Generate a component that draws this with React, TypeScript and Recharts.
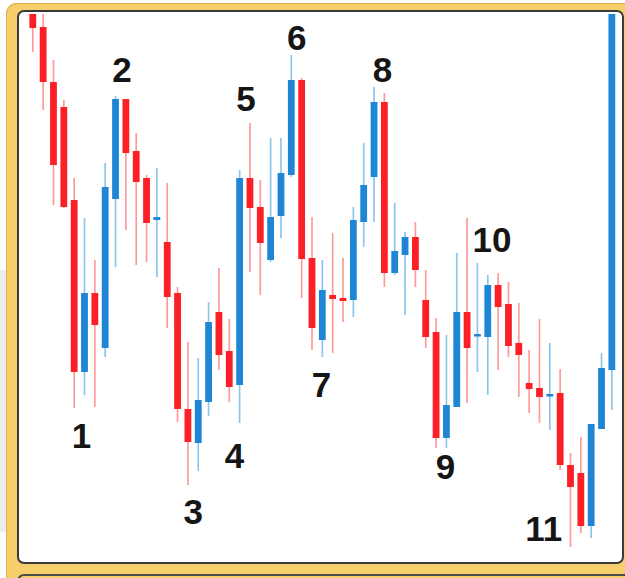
import { ComposedChart, Bar, XAxis, YAxis, ReferenceDot } from 'recharts';

// one entry per session, left to right
const days = [
  '1', '2', '3', '4', '5', '6', '7', '8', '9', '10',
  '11', '12', '13', '14', '15', '16', '17', '18', '19', '20',
  '21', '22', '23', '24', '25', '26', '27', '28', '29', '30',
  '31', '32', '33', '34', '35', '36', '37', '38', '39', '40',
  '41', '42', '43', '44', '45', '46', '47', '48', '49', '50',
  '51', '52', '53', '54', '55', '56', '57',
];

const opens = [
  155.0, 153.1, 147.6, 145.1, 135.8, 118.6, 126.5, 121.0, 135.9, 145.9,
  140.7, 138.0, 133.8, 131.6, 126.5, 114.9, 111.5, 115.6, 124.6, 120.7,
  117.3, 138.0, 135.1, 129.8, 134.2, 138.3, 147.8, 130.0, 121.8, 126.3,
  126.0, 125.8, 133.6, 138.1, 145.6, 128.5, 130.3, 132.1, 125.8, 122.6,
  112.0, 115.1, 124.6, 122.2, 122.1, 127.3, 125.4, 121.5, 117.5, 117.0,
  116.2, 116.5, 109.3, 108.5, 103.2, 112.9, 118.8,
];

const highs = [
  156.0, 155.5, 149.8, 145.8, 138.0, 134.0, 129.8, 139.5, 146.2, 145.9,
  142.5, 138.3, 139.0, 137.5, 127.1, 121.6, 120.0, 125.6, 129.0, 123.9,
  138.8, 143.5, 137.8, 142.0, 142.0, 150.3, 148.0, 134.1, 129.8, 132.5,
  130.0, 135.1, 141.5, 147.1, 146.5, 135.5, 132.6, 133.6, 128.8, 124.0,
  122.3, 130.5, 134.0, 129.5, 128.3, 128.5, 127.6, 125.5, 120.8, 123.9,
  121.5, 118.9, 110.5, 112.1, 113.4, 120.5, 156.5,
];

const lows = [
  150.6, 144.8, 135.3, 135.0, 115.0, 116.3, 115.1, 120.1, 129.1, 132.8,
  129.3, 129.6, 128.1, 123.0, 113.6, 107.3, 108.7, 114.2, 118.8, 115.6,
  113.5, 128.6, 126.3, 129.6, 132.0, 138.1, 126.0, 120.8, 120.1, 120.5,
  123.6, 124.1, 131.1, 133.6, 127.1, 128.3, 124.3, 127.1, 121.0, 111.0,
  111.0, 115.1, 115.5, 118.6, 116.3, 118.8, 120.1, 116.1, 114.5, 113.5,
  112.8, 108.8, 101.1, 102.5, 102.0, 112.9, 114.8,
];

const closes = [
  153.0, 147.6, 139.3, 135.1, 118.6, 126.5, 123.3, 137.1, 145.9, 140.5,
  137.6, 133.5, 134.1, 126.1, 114.9, 111.6, 115.8, 123.6, 120.3, 117.1,
  138.0, 135.0, 131.5, 134.1, 138.5, 147.8, 129.9, 123.0, 126.8, 125.9,
  125.7, 133.8, 137.3, 145.6, 128.5, 130.7, 132.1, 128.8, 122.1, 112.0,
  115.3, 124.6, 121.0, 122.4, 127.3, 125.1, 121.2, 120.3, 116.9, 116.1,
  116.4, 109.3, 107.1, 103.2, 113.4, 119.0, 156.0,
];

// swing point numbers; slot = position in sessions (0 = first candle)
const pivotLabels = ['1', '2', '3', '4', '5', '6', '7', '8', '9', '10', '11'];
const pivotSlots = [4.7, 8.6, 15.5, 19.5, 20.6, 25.5, 27.9, 33.8, 39.9, 44.4, 49.4];
const pivotPrices = [112.3, 148.9, 104.7, 110.3, 146.0, 152.1, 117.4, 148.9, 109.2, 131.9, 103.0];

const W = 625;
const H = 578;
const margin = { top: 14, right: 7.8, bottom: 20, left: 27.8 };
const bandWidth = (W - margin.left - margin.right) / days.length;

const RED = '#fb1f26';
const BLUE = '#1f86d6';
const RED_WICK = '#ff9a9a';
const BLUE_WICK = '#8cc6ef';

const data = days.map((day, i) => ({
  day,
  open: opens[i],
  high: highs[i],
  low: lows[i],
  close: closes[i],
  range: [lows[i], highs[i]],
}));

const Candle = (props: any) => {
  const { x, y, width, height } = props;
  const p = props.payload ?? props;
  const top = Math.min(y, y + height);
  const h = Math.abs(height);
  const perUnit = h / (p.high - p.low || 1);
  const yOf = (v: number) => top + (p.high - v) * perUnit;
  const cx = x + width / 2;
  const up = p.close >= p.open;
  const bodyTop = yOf(Math.max(p.open, p.close));
  const bodyH = Math.max(yOf(Math.min(p.open, p.close)) - bodyTop, 2.5);
  return (
    <g>
      <line x1={cx} x2={cx} y1={top} y2={top + h} stroke={up ? BLUE_WICK : RED_WICK} strokeWidth={1.7} />
      <rect x={cx - 3.4} y={bodyTop} width={6.8} height={bodyH} fill={up ? BLUE : RED} />
    </g>
  );
};

const pivotShape = (label: string, slot: number) => (props: any) => (
  <text
    x={props.cx + (slot - Math.floor(slot)) * bandWidth}
    y={props.cy + 12.5}
    textAnchor="middle"
    fontFamily="'Liberation Sans', Arial, sans-serif"
    fontWeight={700}
    fontSize={35}
    fill="#151515"
  >
    {label}
  </text>
);

const App = () => {
  return (
    <div style={{ position: 'absolute', left: 0, top: 0, width: W, height: H, overflow: 'hidden', background: '#fff' }}>
      <div style={{ position: 'absolute', left: 0, top: 270, width: 7, height: 262, background: '#ececec' }} />
      <div
        style={{
          position: 'absolute', left: 6, top: 3, width: 680, height: 640,
          background: '#f6ce6c', borderRadius: 11, boxShadow: 'inset 0 0 0 1px #e0b24f',
        }}
      />
      <div
        style={{
          position: 'absolute', left: 17, top: 10, width: 607, height: 554, boxSizing: 'border-box',
          border: '2.5px solid #3a3a3a', borderRadius: 7, background: '#fff',
        }}
      />
      <div
        style={{
          position: 'absolute', left: 17, top: 574, width: 640, height: 20, boxSizing: 'border-box',
          borderTop: '2.5px solid #4a4a4a', borderLeft: '2.5px solid #4a4a4a', borderRadius: 7,
        }}
      />
      <div style={{ position: 'absolute', left: 0, top: 0 }}>
        <ComposedChart width={W} height={H} data={data} margin={margin} barCategoryGap="0%">
          <XAxis dataKey="day" hide />
          <YAxis hide domain={[100, 154.4]} allowDataOverflow />
          <Bar dataKey="range" shape={Candle} isAnimationActive={false} />
          {pivotLabels.map((label, i) => (
            <ReferenceDot
              key={label}
              x={days[Math.floor(pivotSlots[i])]}
              y={pivotPrices[i]}
              r={0}
              shape={pivotShape(label, pivotSlots[i])}
            />
          ))}
        </ComposedChart>
      </div>
    </div>
  );
};

export default App;
